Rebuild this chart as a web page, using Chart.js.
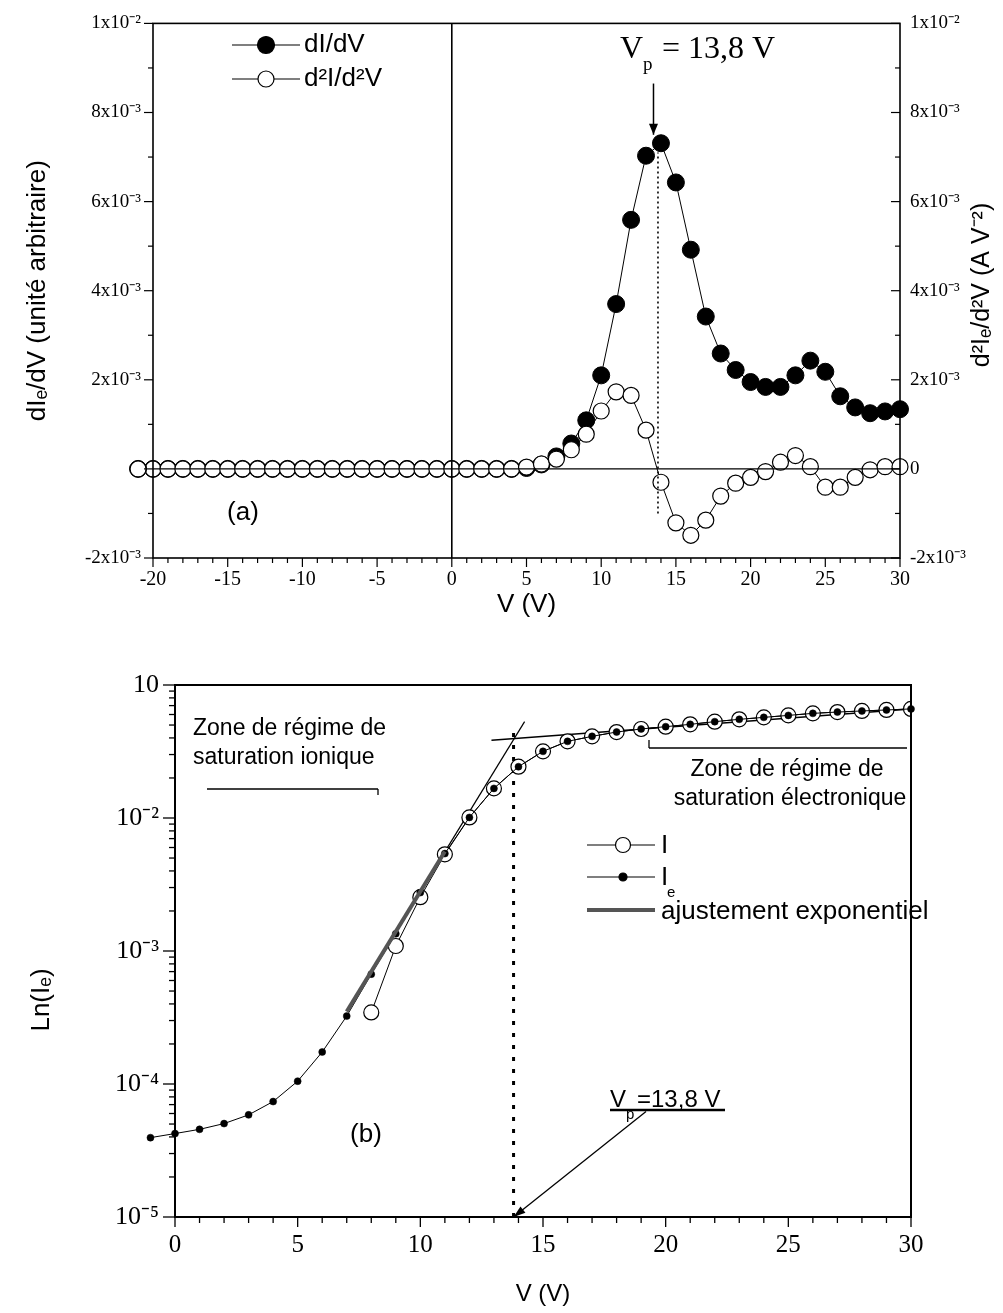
<!DOCTYPE html>
<html><head><meta charset="utf-8">
<script src="https://cdn.jsdelivr.net/npm/chart.js@4/dist/chart.umd.min.js"></script>
<style>
html,body{margin:0;padding:0;background:#fff;}
#wrap{position:relative;width:1003px;height:1313px;overflow:hidden;}
#c1{position:absolute;left:0;top:0;}
#c2{position:absolute;left:0;top:650px;}
</style></head><body>
<div id="wrap">
<canvas id="c1" width="1003" height="640"></canvas>
<canvas id="c2" width="1003" height="663"></canvas>
</div>
<script>
// ---------- DATA: chart (a) ----------
const vTop = [-21,-20,-19,-18,-17,-16,-15,-14,-13,-12,-11,-10,-9,-8,-7,-6,-5,-4,-3,-2,-1,0,1,2,3,4,5,6,7,8,9,10,11,12,13,14,15,16,17,18,19,20,21,22,23,24,25,26,27,28,29,30];
const dIdV = [0,0,0,0,0,0,0,0,0,0,0,0,0,0,0,0,0,0,0,0,0,0,0,0,0,0,
  0.00002,0.0001,0.00028,0.00057,0.00109,0.0021,0.0037,0.00559,0.00703,0.00731,0.00643,0.00492,0.00342,0.00259,0.00222,0.00195,0.00184,0.00184,0.0021,0.00243,0.00218,0.00163,0.00138,0.00125,0.00129,0.00134];
const d2IdV2 = [0,0,0,0,0,0,0,0,0,0,0,0,0,0,0,0,0,0,0,0,0,0,0,0,0,0,
  0.00004,0.00011,0.00022,0.00043,0.00078,0.0013,0.00173,0.00165,0.00087,-0.0003,-0.00121,-0.00149,-0.00115,-0.00061,-0.00032,-0.00019,-0.00006,0.00015,0.0003,0.00005,-0.00041,-0.00041,-0.00019,-0.00002,0.00005,0.00005];
const topYTickValues = [-0.002,0,0.002,0.004,0.006,0.008,0.01];
const topYTickLabels = ['-2x10\u207B\u00B3','0','2x10\u207B\u00B3','4x10\u207B\u00B3','6x10\u207B\u00B3','8x10\u207B\u00B3','1x10\u207B\u00B2'];
const vpValue = 13.8;
const topDottedRange = [-0.001, 0.0071];
const topArrowX = 13.5;
const topArrowRange = [0.00865, 0.0075];

// ---------- DATA: chart (b) ----------
const vBot = [-1,0,1,2,3,4,5,6,7,8,9,10,11,12,13,14,15,16,17,18,19,20,21,22,23,24,25,26,27,28,29,30];
const IeBot = [3.95e-5,4.24e-5,4.56e-5,5.04e-5,5.86e-5,7.38e-5,1.05e-4,1.74e-4,3.24e-4,6.7e-4,1.35e-3,2.75e-3,5.4e-3,1.01e-2,1.67e-2,2.43e-2,3.17e-2,3.77e-2,4.11e-2,4.43e-2,4.67e-2,4.86e-2,5.06e-2,5.30e-2,5.52e-2,5.71e-2,5.91e-2,6.12e-2,6.26e-2,6.38e-2,6.49e-2,6.61e-2];
const IBot = [null,null,null,null,null,null,null,null,null,
  3.45e-4,1.09e-3,2.54e-3,5.33e-3,1.01e-2,1.67e-2,2.43e-2,3.17e-2,3.77e-2,4.11e-2,4.43e-2,4.67e-2,4.86e-2,5.06e-2,5.30e-2,5.52e-2,5.71e-2,5.91e-2,6.12e-2,6.26e-2,6.38e-2,6.49e-2,6.61e-2];
const fitV = [7, 11];
const fitI = [3.5e-4, 5.6e-3];
const tangent1V = [7.2, 14.25];
const tangent1I = [4.0e-4, 5.3e-2];
const tangent2V = [12.9, 30];
const tangent2I = [3.85e-2, 6.6e-2];
const vpDottedI = [1e-5, 5.0e-2];
const vpArrowFrom = [19.2, 6.2e-5];
const vpArrowTo = [13.8, 1.0e-5];
const botYTickValues = [1e-5,1e-4,1e-3,1e-2,1e-1];
const botYTickLabels = ['10\u207B\u2075','10\u207B\u2074','10\u207B\u00B3','10\u207B\u00B2','10'];

Chart.defaults.color = '#000';
Chart.defaults.animation = false;

function ln(ctx,x1,y1,x2,y2){ctx.beginPath();ctx.moveTo(x1,y1);ctx.lineTo(x2,y2);ctx.stroke();}
function arrow(ctx,x1,y1,x2,y2,hl,hw){
  ln(ctx,x1,y1,x2,y2);
  const a=Math.atan2(y2-y1,x2-x1);
  ctx.beginPath();
  ctx.moveTo(x2,y2);
  ctx.lineTo(x2-hl*Math.cos(a)+hw*Math.sin(a), y2-hl*Math.sin(a)-hw*Math.cos(a));
  ctx.lineTo(x2-hl*Math.cos(a)-hw*Math.sin(a), y2-hl*Math.sin(a)+hw*Math.cos(a));
  ctx.closePath();ctx.fill();
}
function circ(ctx,x,y,r,fill){ctx.beginPath();ctx.arc(x,y,r,0,Math.PI*2);ctx.fillStyle=fill;ctx.fill();ctx.stroke();}
// markers of data points lying just outside the x range (chart.js does not draw them)
function drawOutsidePoints(chart){
  const {ctx, scales:{x,y}} = chart;
  const sets = chart.data.datasets;
  for(let d=sets.length-1; d>=0; d--){
    const ds=sets[d];
    if(!ds.pointRadius) continue;
    ds.data.forEach(p=>{
      if(p.y==null) return;
      if(p.x < x.min || p.x > x.max){
        ctx.lineWidth=ds.pointBorderWidth; ctx.strokeStyle=ds.pointBorderColor;
        circ(ctx,x.getPixelForValue(p.x),y.getPixelForValue(p.y),ds.pointRadius,ds.pointBackgroundColor);
      }
    });
  }
}

const SANS = "'Liberation Sans', Arial, sans-serif";
const SERIF = "'Liberation Serif', 'Times New Roman', serif";

// ---------- chart (a) ----------
const topDecor = {
  id:'topDecor',
  afterDatasetsDraw(chart){
    const {ctx, chartArea:a, scales:{x,y}} = chart;
    ctx.save();
    drawOutsidePoints(chart);
    ctx.strokeStyle='#000'; ctx.fillStyle='#000';
    const y0=y.getPixelForValue(0), x0=x.getPixelForValue(0);
    ctx.lineWidth=1.3; ln(ctx,a.left,y0,a.right,y0);
    ctx.lineWidth=1.6; ln(ctx,x0,a.top,x0,a.bottom);
    ctx.lineWidth=1.6; ctx.strokeRect(a.left,a.top,a.right-a.left,a.bottom-a.top);
    ctx.lineWidth=1.2;
    for(let v=-20; v<=30; v++){const p=x.getPixelForValue(v);const L=(v%5===0)?9:5;ln(ctx,p,a.bottom,p,a.bottom+L);}
    for(let k=-2;k<=10;k++){const p=y.getPixelForValue(k*0.001);const L=(k%2===0)?9:5;ln(ctx,a.left-L,p,a.left,p);ln(ctx,a.right-L,p,a.right,p);}
    // dotted Vp line
    const xv=x.getPixelForValue(vpValue);
    ctx.setLineDash([2,3]); ctx.lineWidth=1.6;
    ln(ctx,xv,y.getPixelForValue(topDottedRange[0]),xv,y.getPixelForValue(topDottedRange[1]));
    ctx.setLineDash([]);
    // arrow
    const xa=x.getPixelForValue(topArrowX);
    ctx.lineWidth=1.5; ctx.fillStyle='#000';
    arrow(ctx,xa,y.getPixelForValue(topArrowRange[0]),xa,y.getPixelForValue(topArrowRange[1]),11,4.5);
    // Vp label
    ctx.textBaseline='alphabetic'; ctx.textAlign='left';
    ctx.font='32px '+SERIF; ctx.fillText('V',620,58);
    ctx.font='19px '+SERIF; ctx.fillText('p',643,70);
    ctx.font='32px '+SERIF; ctx.fillText('= 13,8 V',662,58);
    // legend
    ctx.lineWidth=1.2;
    ln(ctx,232,45,300,45); circ(ctx,266,45,8.5,'#000');
    ln(ctx,232,79,300,79); circ(ctx,266,79,8,'#fff');
    ctx.fillStyle='#000'; ctx.textBaseline='middle';
    ctx.font='26px '+SANS; ctx.fillText('dI/dV',304,45);
    ctx.fillText('d\u00B2I/d\u00B2V',304,79);
    // (a)
    ctx.textAlign='center'; ctx.fillText('(a)',243,513);
    // right axis title
    ctx.save(); ctx.translate(982,285); ctx.rotate(-Math.PI/2);
    ctx.textAlign='center'; ctx.textBaseline='middle'; ctx.font='25px '+SANS;
    ctx.fillText('d\u00B2I\u2091/d\u00B2V (A V\u207B\u00B2)',0,0);
    ctx.restore();
    ctx.restore();
  }
};

new Chart(document.getElementById('c1'),{
  type:'line',
  data:{datasets:[
    {label:'d\u00B2I/d\u00B2V', data:vTop.map((v,i)=>({x:v,y:d2IdV2[i]})), borderColor:'#000', borderWidth:1, backgroundColor:'#fff',
      pointRadius:8, pointBorderWidth:1.2, pointBorderColor:'#000', pointBackgroundColor:'#fff', clip:false, tension:0},
    {label:'dI/dV', data:vTop.map((v,i)=>({x:v,y:dIdV[i]})), borderColor:'#000', borderWidth:1, backgroundColor:'#000',
      pointRadius:8.5, pointBorderWidth:1, pointBorderColor:'#000', pointBackgroundColor:'#000', clip:false, tension:0}
  ]},
  options:{
    responsive:false, animation:false,
    layout:{padding:{top:20,left:0,right:0,bottom:0}},
    plugins:{legend:{display:false}, tooltip:{enabled:false}},
    scales:{
      x:{type:'linear', min:-20, max:30,
        ticks:{stepSize:5, font:{family:SERIF,size:20}, color:'#000', padding:10, maxRotation:0},
        grid:{display:false, drawTicks:false}, border:{display:false},
        title:{display:true, text:'V (V)', font:{family:SANS,size:26}, color:'#000', padding:{top:0,bottom:20}},
        afterFit:s=>{s.height=82;}},
      y:{type:'linear', position:'left', min:-0.002, max:0.01,
        ticks:{stepSize:0.002, font:{family:SERIF,size:19}, color:'#000', padding:12,
          callback:(v)=>{const i=topYTickValues.findIndex(t=>Math.abs(t-v)<1e-9);return i>=0?topYTickLabels[i]:'';}},
        grid:{display:false, drawTicks:false}, border:{display:false},
        title:{display:true, text:'dI\u2091/dV (unit\u00E9 arbitraire)', font:{family:SANS,size:26}, color:'#000', padding:{top:22,bottom:0}},
        afterFit:s=>{s.width=153;}},
      y2:{type:'linear', position:'right', min:-0.002, max:0.01,
        ticks:{stepSize:0.002, font:{family:SERIF,size:19}, color:'#000', padding:10,
          callback:(v)=>{const i=topYTickValues.findIndex(t=>Math.abs(t-v)<1e-9);return i>=0?topYTickLabels[i]:'';}},
        grid:{display:false, drawTicks:false}, border:{display:false},
        afterFit:s=>{s.width=103;}}
    }
  },
  plugins:[topDecor]
});

// ---------- chart (b) ----------
const botDecor = {
  id:'botDecor',
  afterDatasetsDraw(chart){
    const {ctx, chartArea:a, scales:{x,y}} = chart;
    ctx.save();
    drawOutsidePoints(chart);
    ctx.strokeStyle='#000'; ctx.fillStyle='#000';
    ctx.lineWidth=2; ctx.strokeRect(a.left,a.top,a.right-a.left,a.bottom-a.top);
    ctx.lineWidth=1.3;
    for(let v=0; v<=30; v++){const p=x.getPixelForValue(v);const L=(v%5===0)?10:6;ln(ctx,p,a.bottom,p,a.bottom+L);}
    for(let e=-5;e<=-1;e++){for(let m=1;m<=9;m++){const val=m*Math.pow(10,e); if(val>0.1000001) break; const p=y.getPixelForValue(val); const L=(m===1)?12:6; ln(ctx,a.left-L,p,a.left,p);}}
    // Vp annotation arrow
    ctx.lineWidth=1.3; ctx.fillStyle='#000';
    arrow(ctx,x.getPixelForValue(vpArrowFrom[0]),y.getPixelForValue(vpArrowFrom[1]),x.getPixelForValue(vpArrowTo[0]),y.getPixelForValue(vpArrowTo[1]),12,4);
    ctx.textAlign='left'; ctx.textBaseline='alphabetic';
    ctx.font='24px '+SANS; ctx.fillText('V',610,457);
    ctx.font='15px '+SANS; ctx.fillText('p',626,469);
    ctx.font='24px '+SANS; ctx.fillText('=13,8 V',637,457);
    ctx.lineWidth=2.5; ln(ctx,610,460,725,460);
    // zone texts
    ctx.font='23px '+SANS;
    ctx.fillText('Zone de r\u00E9gime de',193,85);
    ctx.fillText('saturation ionique',193,114);
    ctx.lineWidth=1.3; ln(ctx,207,139,378,139); ln(ctx,378,139,378,145);
    ctx.textAlign='center';
    ctx.fillText('Zone de r\u00E9gime de',787,126);
    ctx.fillText('saturation \u00E9lectronique',790,155);
    ln(ctx,649,98,907,98); ln(ctx,649,90,649,98);
    // (b)
    ctx.font='26px '+SANS; ctx.textBaseline='middle'; ctx.fillText('(b)',366,485);
    // legend
    ctx.textAlign='left';
    ctx.lineWidth=1.2;
    ln(ctx,587,195,655,195); circ(ctx,623,195,7.5,'#fff');
    ln(ctx,587,227,655,227); circ(ctx,623,227,4,'#000');
    ctx.lineWidth=4; ctx.strokeStyle='#555'; ln(ctx,587,260,655,260); ctx.strokeStyle='#000';
    ctx.fillStyle='#000'; ctx.font='26px '+SANS;
    ctx.fillText('I',661,196);
    ctx.fillText('I',661,228);
    ctx.font='15px '+SANS; ctx.fillText('e',667,243);
    ctx.font='26px '+SANS; ctx.fillText('ajustement exponentiel',661,262);
    // left title
    ctx.save(); ctx.translate(42,350); ctx.rotate(-Math.PI/2);
    ctx.textAlign='center'; ctx.textBaseline='middle'; ctx.font='26px '+SANS;
    ctx.fillText('Ln(I\u2091)',0,0);
    ctx.restore();
    ctx.restore();
  }
};

new Chart(document.getElementById('c2'),{
  type:'line',
  data:{datasets:[
    {label:'ajustement exponentiel', data:fitV.map((v,i)=>({x:v,y:fitI[i]})), borderColor:'#555', borderWidth:4, pointRadius:0, tension:0},
    {label:'Ie', data:vBot.map((v,i)=>({x:v,y:IeBot[i]})), borderColor:'#000', borderWidth:1, pointRadius:3.5,
      pointBackgroundColor:'#000', pointBorderColor:'#000', pointBorderWidth:0.5, clip:false, tension:0},
    {label:'I', data:vBot.map((v,i)=>({x:v,y:IBot[i]})), borderColor:'#000', borderWidth:1, pointRadius:7.5,
      pointBackgroundColor:'#fff', pointBorderColor:'#000', pointBorderWidth:1.2, tension:0},
    {label:'tangente 1', data:tangent1V.map((v,i)=>({x:v,y:tangent1I[i]})), borderColor:'#000', borderWidth:1.2, pointRadius:0, tension:0},
    {label:'tangente 2', data:tangent2V.map((v,i)=>({x:v,y:tangent2I[i]})), borderColor:'#000', borderWidth:1.5, pointRadius:0, tension:0},
    {label:'Vp', data:vpDottedI.map(v=>({x:vpValue,y:v})), borderColor:'#000', borderWidth:3, borderDash:[4,8], pointRadius:0, tension:0}
  ]},
  options:{
    responsive:false, animation:false,
    layout:{padding:{top:35,left:0,right:92,bottom:0}},
    plugins:{legend:{display:false}, tooltip:{enabled:false}},
    scales:{
      x:{type:'linear', min:0, max:30,
        ticks:{stepSize:5, font:{family:SERIF,size:25}, color:'#000', padding:13, maxRotation:0},
        grid:{display:false, drawTicks:false}, border:{display:false},
        title:{display:true, text:'V (V)', font:{family:SANS,size:24}, color:'#000', padding:{top:0,bottom:4}},
        afterFit:s=>{s.height=96;}},
      y:{type:'logarithmic', min:1e-5, max:1e-1,
        ticks:{autoSkip:false, font:{family:SERIF,size:26}, color:'#000', padding:16,
          callback:(v)=>{const i=botYTickValues.findIndex(t=>Math.abs(Math.log10(t)-Math.log10(v))<1e-6);return i>=0?botYTickLabels[i]:'';}},
        grid:{display:false, drawTicks:false}, border:{display:false},
        afterFit:s=>{s.width=175;}}
    }
  },
  plugins:[botDecor]
});
</script>
</body></html>
